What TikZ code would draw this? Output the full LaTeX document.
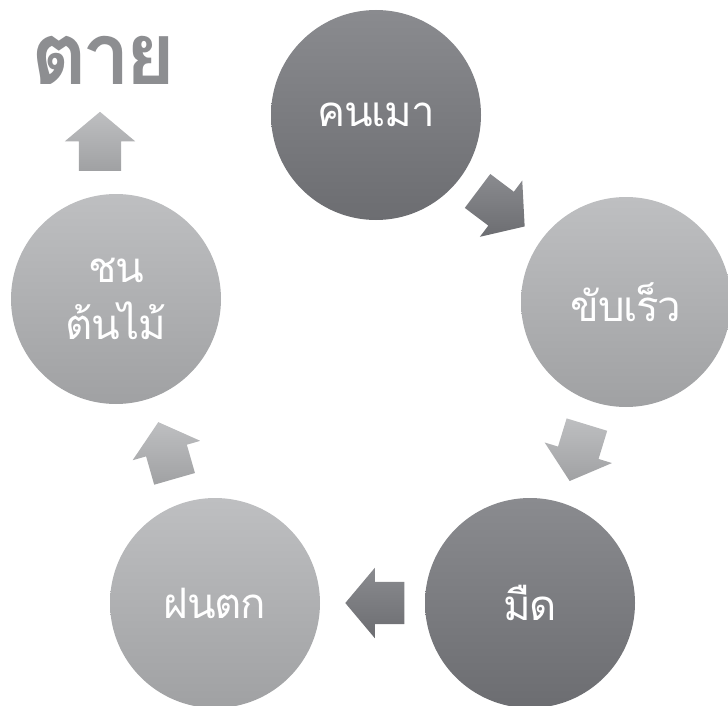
\documentclass[tikz,border=0pt]{standalone}
\usepackage{fontspec}
\newfontfamily\thaifont[Script=Thai,LetterSpace=-3]{Loma}
\newfontfamily\thaititle[Script=Thai,LetterSpace=-6]{Loma}
\usetikzlibrary{shapes.arrows,calc}

\begin{document}
\begin{tikzpicture}[
  x=1pt,
  y=-1pt,
  stage/.style={
    circle,
    minimum size=210pt,
    inner sep=0pt,
    text=white,
    align=center,
    font=\thaifont\fontsize{42}{57}\selectfont
  },
  darkdisc/.style={
    top color={rgb,255:red,138;green,139;blue,143},
    bottom color={rgb,255:red,108;green,109;blue,113}
  },
  lightdisc/.style={
    top color={rgb,255:red,190;green,191;blue,193},
    bottom color={rgb,255:red,160;green,161;blue,163}
  },
  flow/.style={
    single arrow,
    anchor=tail,
    minimum height=59pt,
    single arrow head extend=14pt,
    single arrow tip angle=100,
    inner xsep=0pt,
    inner ysep=21pt
  }
]
  \useasboundingbox (0,0) rectangle (728,706);
  \node[stage,darkdisc] (drunk) at (376,115) {คนเมา};
  \node[stage,lightdisc] (speed) at (626,302) {ขับเร็ว};
  \node[stage,darkdisc] (dark) at (530,603) {มืด};
  \node[stage,lightdisc] (rain) at (215,603) {ฝนตก};
  \node[stage,lightdisc] (crash) at (116,299) {ชน\\ต้นไม้};
  \node[anchor=center,text={rgb,255:red,141;green,142;blue,145},
    font=\thaititle\bfseries\fontsize{86}{90}\selectfont] (death) at (104,60) {ตาย};

  \node[flow,darkdisc,rotate=-37] (a1) at ($(drunk)!0.5!(speed)!29.5pt!(drunk)$) {};
  \node[flow,lightdisc,rotate=-107] (a2) at ($(speed)!0.5!(dark)!29.5pt!(speed)$) {};
  \node[flow,darkdisc,rotate=180] (a3) at ($(dark)!0.5!(rain)!32pt!(dark)$) {};
  \node[flow,lightdisc,rotate=106] (a4) at ($(rain)!0.5!(crash)!29.5pt!(rain)$) {};
  \node[flow,lightdisc,rotate=90] (a5) at (100,171) {};
\end{tikzpicture}
\end{document}
